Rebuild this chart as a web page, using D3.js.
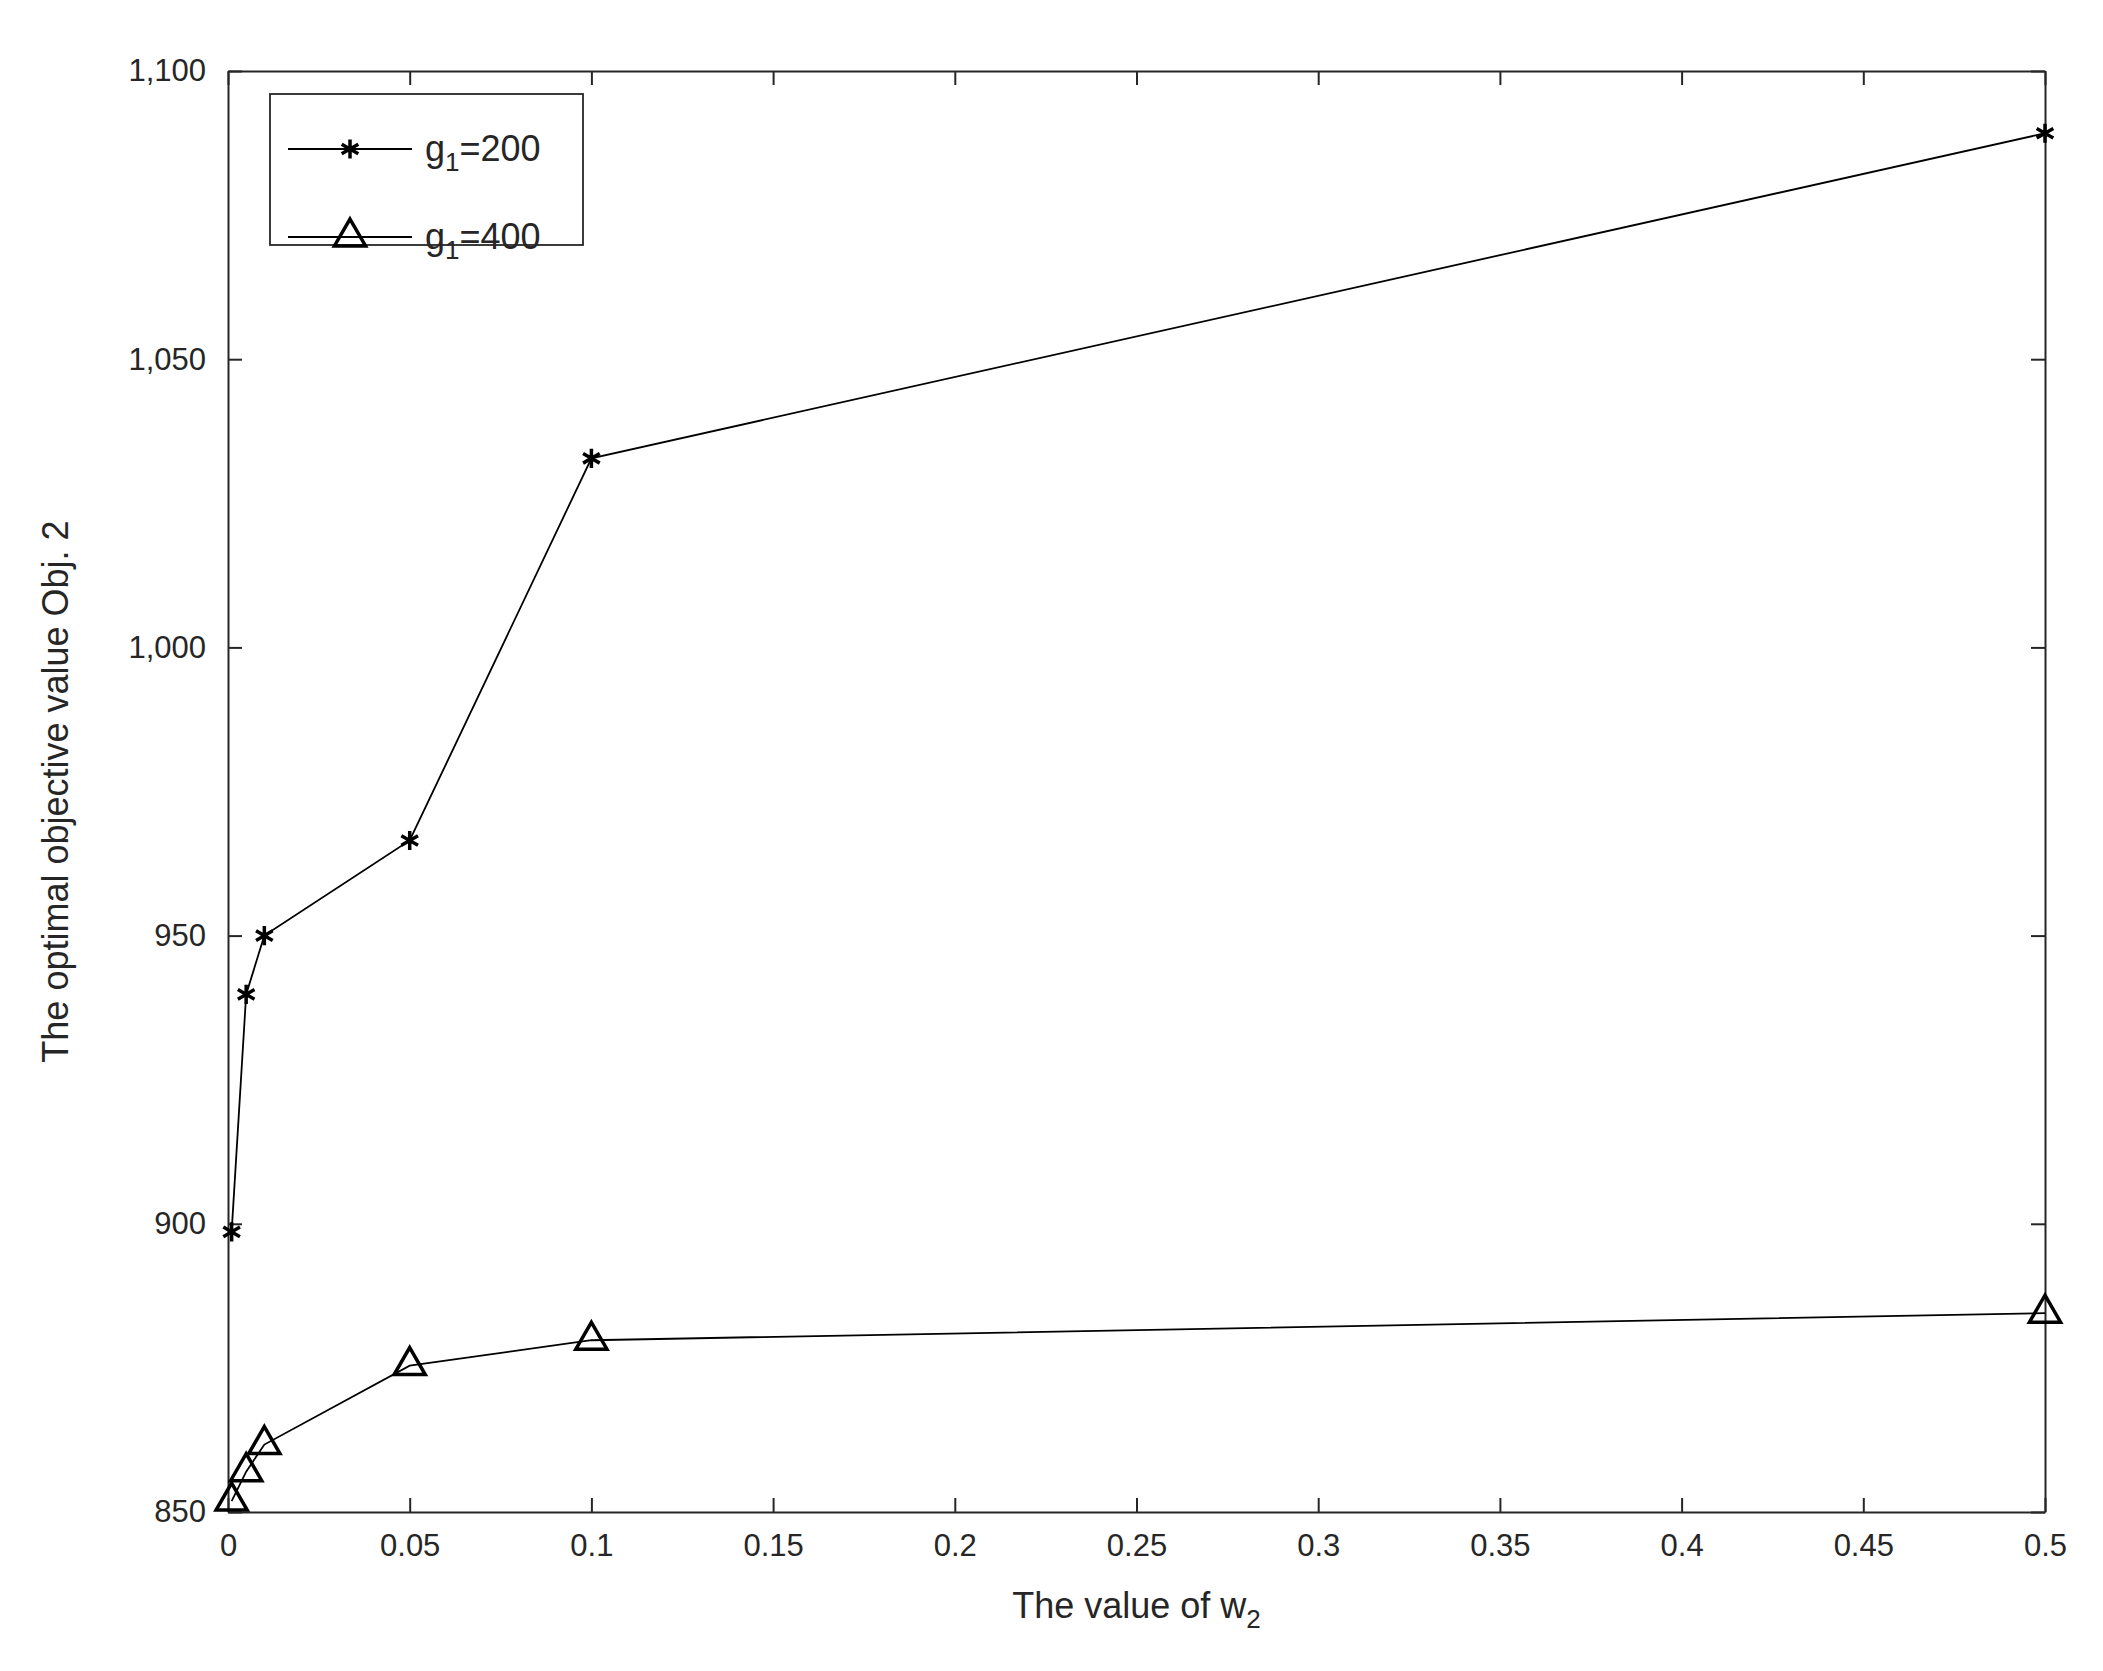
<!DOCTYPE html>
<html>
<head>
<meta charset="utf-8">
<script src="https://cdn.jsdelivr.net/npm/d3@7"></script>
<style>
  body { margin: 0; background: #fff; }
  text { font-family: "Liberation Sans", Arial, sans-serif; fill: #262626; }
</style>
</head>
<body>
<div id="chart"></div>
<script>
// data
const w2 = [0.001, 0.005, 0.01, 0.05, 0.1, 0.5];
const obj200 = [898.6, 939.8, 950, 966.5, 1032.8, 1089.2];
const obj400 = [851.9, 857, 861.7, 875.4, 879.8, 884.5];
const xTicks = [0, 0.05, 0.1, 0.15, 0.2, 0.25, 0.3, 0.35, 0.4, 0.45, 0.5];
const yTicks = [850, 900, 950, 1000, 1050, 1100];

const width = 2103, height = 1671;
const margin = { left: 228, top: 71, right: 2103 - 2045, bottom: 1671 - 1512 };

const svg = d3.select('#chart').append('svg')
  .attr('width', width).attr('height', height);

const x = d3.scaleLinear().domain([0, 0.5]).range([margin.left, width - margin.right]);
const y = d3.scaleLinear().domain([850, 1100]).range([height - margin.bottom, margin.top]);

const tick = 14;
const axisStyle = g => {
  g.selectAll('path').attr('stroke', '#262626').attr('stroke-width', 2);
  g.selectAll('line').attr('stroke', '#262626').attr('stroke-width', 2);
  g.selectAll('text').style('font-size', '31px').attr('fill', '#262626');
};

svg.append('g').attr('transform', `translate(0,${y(850)})`)
  .call(d3.axisBottom(x).tickValues(xTicks).tickFormat(d3.format('')).tickSizeInner(-tick).tickSizeOuter(0).tickPadding(22))
  .call(axisStyle);
svg.append('g').attr('transform', `translate(0,${y(1100)})`)
  .call(d3.axisTop(x).tickValues(xTicks).tickFormat('').tickSizeInner(-tick).tickSizeOuter(0))
  .call(axisStyle);
svg.append('g').attr('transform', `translate(${x(0)},0)`)
  .call(d3.axisLeft(y).tickValues(yTicks).tickSizeInner(-tick).tickSizeOuter(0).tickPadding(22))
  .call(axisStyle);
svg.append('g').attr('transform', `translate(${x(0.5)},0)`)
  .call(d3.axisRight(y).tickValues(yTicks).tickFormat('').tickSizeInner(-tick).tickSizeOuter(0))
  .call(axisStyle);

// axis labels
const xl = svg.append('text').attr('x', (x(0) + x(0.5)) / 2).attr('y', 1618)
  .attr('text-anchor', 'middle').style('font-size', '36px');
xl.append('tspan').text('The value of w');
xl.append('tspan').attr('dy', 10).style('font-size', '26px').text('2');

svg.append('text').attr('transform', `translate(68,${(y(850) + y(1100)) / 2}) rotate(-90)`)
  .attr('text-anchor', 'middle').style('font-size', '36px')
  .text('The optimal objective value Obj. 2');

const line = d3.line().x((d, i) => x(w2[i])).y(d => y(d));
const star = d3.symbol().type(d3.symbolAsterisk).size(260);
const tri = d3.symbol().type(d3.symbolTriangle).size(420);

function drawSeries(vals, sym, fill, sw) {
  svg.append('path').datum(vals).attr('d', line)
    .attr('fill', 'none').attr('stroke', '#000').attr('stroke-width', 1.8);
  svg.append('g').selectAll('path').data(vals).enter().append('path')
    .attr('d', sym)
    .attr('transform', (d, i) => `translate(${x(w2[i])},${y(d)})`)
    .attr('fill', fill).attr('stroke', '#000').attr('stroke-width', sw);
}
drawSeries(obj200, star, 'none', 3.5);
drawSeries(obj400, tri, 'none', 3.5);

// legend
const lg = svg.append('g').attr('transform', 'translate(270,94)');
lg.append('rect').attr('width', 313).attr('height', 151)
  .attr('fill', '#fff').attr('stroke', '#262626').attr('stroke-width', 1.8);
const items = [{ n: '200', s: star }, { n: '400', s: tri }];
items.forEach((it, i) => {
  const yy = 55 + i * 88;
  lg.append('line').attr('x1', 18).attr('x2', 142).attr('y1', yy).attr('y2', yy)
    .attr('stroke', '#000').attr('stroke-width', 1.8);
  lg.append('path').attr('d', it.s).attr('transform', `translate(80,${yy})`)
    .attr('fill', 'none').attr('stroke', '#000').attr('stroke-width', 3.5);
  const t = lg.append('text').attr('x', 155).attr('y', yy + 12).style('font-size', '36px');
  t.append('tspan').text('g');
  t.append('tspan').attr('dy', 10).style('font-size', '26px').text('1');
  t.append('tspan').attr('dy', -10).text('=' + it.n);
});
</script>
</body>
</html>
